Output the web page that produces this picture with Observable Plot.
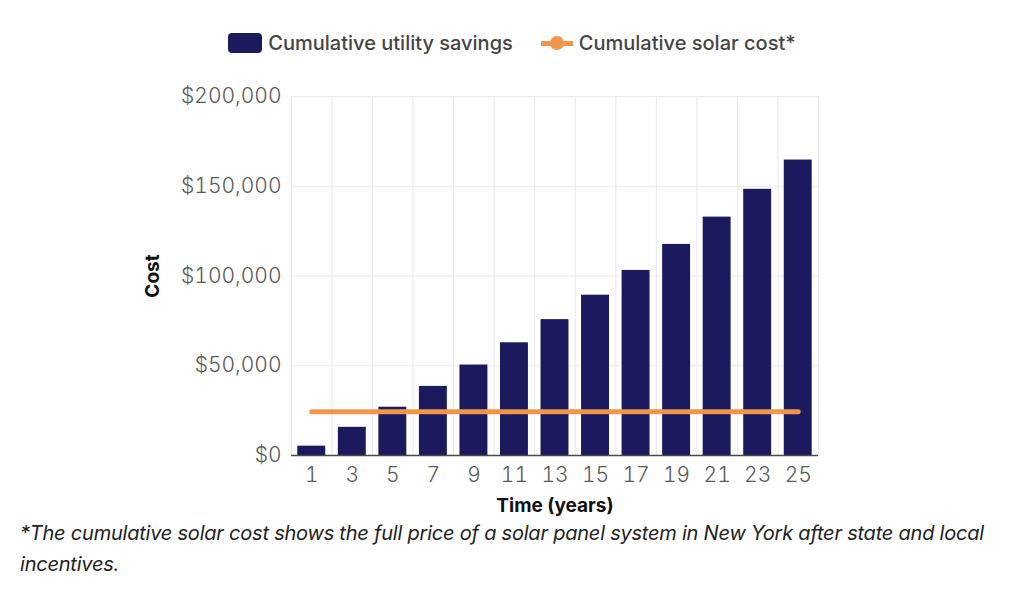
<!DOCTYPE html>
<html>
<head>
<meta charset="utf-8">
<script src="https://cdn.jsdelivr.net/npm/d3@7"></script>
<script src="https://cdn.jsdelivr.net/npm/@observablehq/plot@0.6"></script>
<style>
  html, body { margin: 0; padding: 0; background: #fff; }
  body { width: 1024px; height: 603px; overflow: hidden; font-family: Inter, "Noto Sans", sans-serif; }
  #legend { height: 70px; display: flex; justify-content: center; align-items: center; gap: 28px; padding-top: 16px; box-sizing: border-box; font-size: 20px; font-weight: 500; color: #454545; }
  .item { display: flex; align-items: center; gap: 6px; }
  .sw-bar { width: 34px; height: 20px; border-radius: 4px; background: #1c1a5e; }
  .sw-line { position: relative; width: 32px; height: 20px; }
  .sw-line::before { content: ""; position: absolute; left: 0; right: 0; top: 8px; height: 5px; background: #f0954a; }
  .sw-line::after { content: ""; position: absolute; left: 9px; top: 3px; width: 14px; height: 14px; border-radius: 50%; background: #f0954a; }
  #chart svg g[aria-label="x-axis label"] text, #chart svg g[aria-label="y-axis label"] text { font-weight: 700; fill: #111; font-size: 19px; }
  #note { padding: 3px 0 0 20px; font-style: italic; font-size: 20px; line-height: 31px; color: #222; letter-spacing: -0.22px; }
</style>
</head>
<body>
<div id="legend">
  <div class="item"><span class="sw-bar"></span><span>Cumulative utility savings</span></div>
  <div class="item"><span class="sw-line"></span><span>Cumulative solar cost*</span></div>
</div>
<div id="chart"></div>
<div id="note">*The cumulative solar cost shows the full price of a solar panel system in New York after state and local<br>incentives.</div>
<script>
const years = [1, 3, 5, 7, 9, 11, 13, 15, 17, 19, 21, 23, 25];
const savings = [5200, 15700, 26900, 38500, 50400, 62800, 75700, 89300, 103100, 117600, 132800, 148300, 164600];
const solarCost = [24400, 24400, 24400, 24400, 24400, 24400, 24400, 24400, 24400, 24400, 24400, 24400, 24400];
const yTicks = [0, 50000, 100000, 150000, 200000];

const data = years.map((year, i) => ({year, savings: savings[i], cost: solarCost[i]}));
const bounds = [years[0] - 1, ...years.map(y => y + 1)];

const chart = Plot.plot({
  width: 1024,
  height: 445,
  marginTop: 26,
  marginBottom: 60,
  marginLeft: 291,
  marginRight: 206,
  style: {fontFamily: "Inter, 'Noto Sans', sans-serif", fontSize: "21px", background: "white", overflow: "visible"},
  x: {domain: [bounds[0], bounds[bounds.length - 1]]},
  y: {domain: [0, 200000]},
  marks: [
    Plot.gridY(yTicks, {stroke: "#e8e8ef", strokeOpacity: 1, strokeWidth: 1}),
    Plot.gridX(bounds, {stroke: "#e8e8ef", strokeOpacity: 1, strokeWidth: 1}),
    Plot.rectY(data, {x1: d => d.year - 1, x2: d => d.year + 1, y: "savings", fill: "#1c1a5e", insetLeft: 6.3, insetRight: 6.3}),
    Plot.lineY(data, {x: "year", y: "cost", stroke: "#f0954a", strokeWidth: 5}),
    Plot.ruleY([0], {stroke: "#4a4a4a", strokeWidth: 1.5}),
    Plot.axisX(years, {tickSize: 0, tickPadding: 12, fill: "#5a5a5a", fontWeight: 300, label: "Time (years)", labelAnchor: "center", labelOffset: 56, labelArrow: "none"}),
    Plot.axisY(yTicks, {tickSize: 0, tickPadding: 10, fill: "#5a5a5a", fontWeight: 300, tickFormat: d => "$" + d3.format(",")(d), label: "Cost", labelAnchor: "center", labelOffset: 146, labelArrow: "none"})
  ]
});
document.getElementById("chart").appendChild(chart);
</script>
</body>
</html>
